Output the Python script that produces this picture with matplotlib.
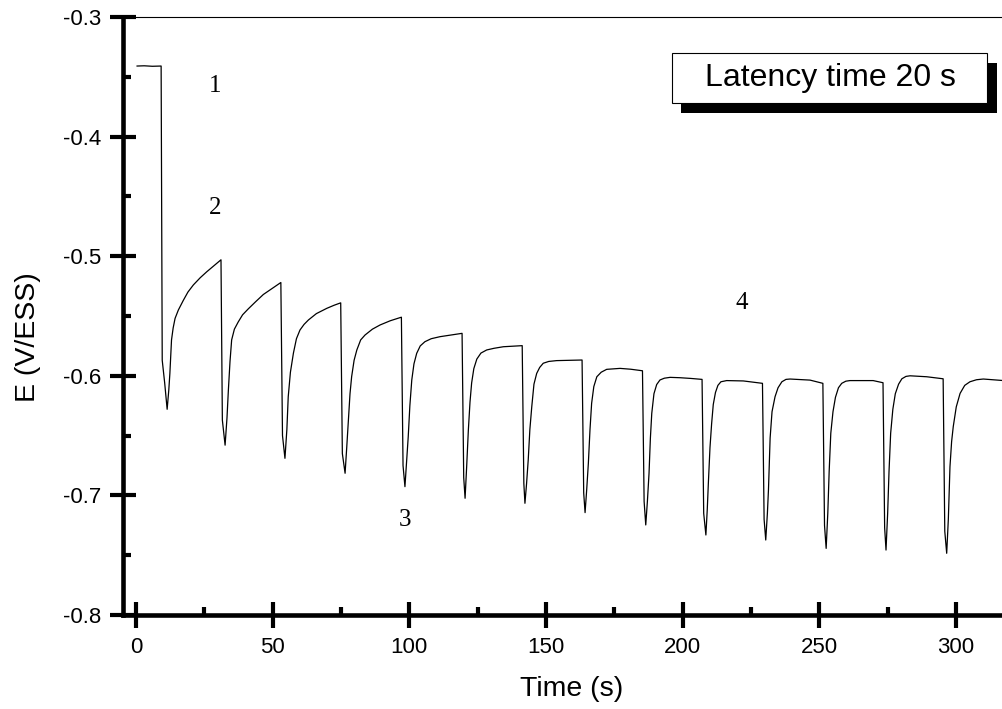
import matplotlib

matplotlib.use("Agg")
import matplotlib.pyplot as plt
from matplotlib.patches import Rectangle
from matplotlib.ticker import MultipleLocator

# potential transient (time in s, E in V/ESS);
# one line per latency cycle
trace_t = [
    0.4, 3.0, 6.0, 9.2,
    9.6, 10.5, 11.4, 12.0, 12.4, 13.0, 13.6, 14.3, 15.5, 17.3, 19.0, 21.0, 23.5, 25.9, 28.5, 31.1,
    31.6, 32.6, 33.3, 33.8, 34.4, 35.0, 36.0, 37.4, 39.0, 41.1, 43.8, 46.6, 49.8, 53.0,
    53.6, 54.5, 55.2, 55.7, 56.5, 57.6, 58.7, 60.0, 61.5, 63.1, 66.0, 69.8, 72.5, 74.9,
    75.5, 76.5, 77.1, 77.7, 78.3, 78.9, 79.8, 80.8, 82.2, 83.8, 86.5, 89.3, 93.0, 97.1,
    97.7, 98.4, 99.0, 99.6, 100.2, 100.9, 101.7, 102.7, 104.0, 105.7, 108.0, 111.2, 115.0, 119.3,
    119.9, 120.4, 121.0, 121.6, 122.2, 122.8, 123.6, 124.7, 126.2, 128.3, 131.0, 134.4, 141.3,
    141.9, 142.3, 142.9, 143.5, 144.1, 144.8, 145.6, 146.6, 147.7, 149.0, 151.0, 153.9, 163.2,
    163.8, 164.3, 164.9, 165.5, 166.1, 166.7, 167.5, 168.6, 170.2, 172.2, 177.1, 181.0, 185.3,
    185.9, 186.5, 187.1, 187.7, 188.2, 188.7, 189.5, 190.5, 191.7, 193.3, 195.4, 199.0, 203.0, 207.1,
    207.7, 208.5, 209.0, 209.4, 210.0, 210.6, 211.2, 212.0, 212.9, 214.0, 216.1, 222.2, 229.2,
    229.8, 230.4, 231.0, 231.4, 232.0, 232.7, 233.8, 234.9, 236.3, 237.8, 239.3, 246.6, 251.3,
    251.9, 252.5, 253.1, 253.6, 254.2, 255.0, 255.9, 257.0, 258.2, 259.7, 261.2, 269.7, 273.3,
    273.9, 274.4, 275.0, 275.5, 276.1, 276.9, 277.8, 279.0, 280.2, 281.7, 283.2, 289.3, 295.3,
    295.9, 296.6, 297.2, 297.8, 298.4, 299.0, 300.1, 301.5, 303.2, 305.1, 307.5, 310.0, 317.5,
]
trace_e = [
    -0.3410, -0.3408, -0.3412, -0.3410,
    -0.587, -0.606, -0.628, -0.612, -0.598, -0.570, -0.560, -0.552, -0.545, -0.537, -0.530, -0.524, -0.518, -0.513, -0.508, -0.503,
    -0.637, -0.658, -0.635, -0.612, -0.588, -0.570, -0.561, -0.555, -0.549, -0.544, -0.538, -0.532, -0.527, -0.522,
    -0.650, -0.669, -0.645, -0.6175, -0.597, -0.581, -0.569, -0.5617, -0.557, -0.5533, -0.548, -0.5436, -0.541, -0.539,
    -0.665, -0.6815, -0.660, -0.637, -0.615, -0.6007, -0.587, -0.5784, -0.570, -0.5659, -0.561, -0.5575, -0.554, -0.551,
    -0.675, -0.6927, -0.672, -0.651, -0.625, -0.6035, -0.590, -0.5812, -0.575, -0.5715, -0.569, -0.5673, -0.566, -0.5645,
    -0.685, -0.7024, -0.675, -0.6453, -0.622, -0.606, -0.594, -0.586, -0.581, -0.5784, -0.577, -0.5757, -0.5748,
    -0.690, -0.7066, -0.690, -0.6704, -0.645, -0.6258, -0.607, -0.598, -0.593, -0.5895, -0.588, -0.5873, -0.5868,
    -0.698, -0.7144, -0.695, -0.6732, -0.645, -0.623, -0.609, -0.6008, -0.597, -0.5946, -0.5938, -0.5945, -0.5958,
    -0.705, -0.7247, -0.705, -0.6815, -0.652, -0.6314, -0.615, -0.6073, -0.6035, -0.602, -0.6013, -0.6016, -0.6022, -0.603,
    -0.715, -0.7331, -0.712, -0.690, -0.660, -0.640, -0.624, -0.614, -0.608, -0.605, -0.604, -0.6043, -0.6063,
    -0.720, -0.7373, -0.715, -0.695, -0.652, -0.630, -0.6175, -0.610, -0.605, -0.603, -0.6027, -0.6036, -0.6063,
    -0.725, -0.7443, -0.715, -0.680, -0.648, -0.630, -0.618, -0.610, -0.6063, -0.6045, -0.604, -0.604, -0.6058,
    -0.727, -0.7457, -0.715, -0.680, -0.648, -0.628, -0.615, -0.607, -0.6025, -0.6005, -0.600, -0.6008, -0.6025,
    -0.730, -0.7484, -0.720, -0.676, -0.655, -0.6425, -0.626, -0.6147, -0.608, -0.605, -0.6033, -0.6027, -0.604,
]

region_labels = ["1", "2", "3", "4"]
region_t = [28.9, 28.9, 98.4, 221.7]
region_e = [-0.358, -0.4597, -0.7206, -0.5391]

legend_text = "Latency time 20 s"

sans = ["Liberation Sans", "DejaVu Sans"]
serif = ["Liberation Serif", "DejaVu Serif"]

fig = plt.figure(figsize=(10.03, 7.09), dpi=100)
ax = fig.add_axes([123 / 1003, 94 / 709, 880 / 1003, 598 / 709])

ax.plot(trace_t, trace_e, color="black", linewidth=0.9)

ax.set_xlim(-4.75, 317.2)
ax.set_ylim(-0.8, -0.3)
ax.xaxis.set_major_locator(MultipleLocator(50))
ax.xaxis.set_minor_locator(MultipleLocator(25))
ax.yaxis.set_major_locator(MultipleLocator(0.1))
ax.yaxis.set_minor_locator(MultipleLocator(0.05))
ax.yaxis.set_major_formatter(lambda v, pos: f"{v:.1f}")

for side in ("left", "bottom"):
    ax.spines[side].set_linewidth(3.3)
ax.spines["top"].set_linewidth(0.8)
ax.spines["right"].set_visible(False)

ax.tick_params(which="major", direction="inout", length=19, width=3.0, labelsize=16, pad=6)
ax.tick_params(axis="y", which="major", pad=6)
ax.tick_params(which="minor", direction="in", length=6, width=3.0)
for lab in ax.get_xticklabels() + ax.get_yticklabels():
    lab.set_fontfamily(sans)

ax.set_xlabel("Time (s)", fontsize=20.5, family=sans)
ax.set_ylabel("E (V/ESS)", fontsize=20.5, family=sans)
ax.xaxis.set_label_coords(0.5097, -0.1237)
ax.xaxis.label.set_verticalalignment("center")
ax.yaxis.set_label_coords(-0.1085, 0.464)
ax.yaxis.label.set_verticalalignment("center")

for lab, t, e in zip(region_labels, region_t, region_e):
    ax.text(t, e, lab, fontsize=18, family=serif, ha="center", va="center")

# boxed legend text with a drop shadow, as in the original
W, H = 1003, 709
fig.patches.append(Rectangle((681 / W, 1 - 113 / H), 316 / W, 50 / H,
                             transform=fig.transFigure, facecolor="black", edgecolor="none"))
fig.patches.append(Rectangle((671.7 / W, 1 - 102.7 / H), 315.6 / W, 50 / H,
                             transform=fig.transFigure, facecolor="white", edgecolor="black",
                             linewidth=0.8))
fig.text(830 / W, 1 - 78 / H, legend_text, fontsize=23, family=sans, ha="center", va="center")

fig.savefig("out.png", dpi=100)
